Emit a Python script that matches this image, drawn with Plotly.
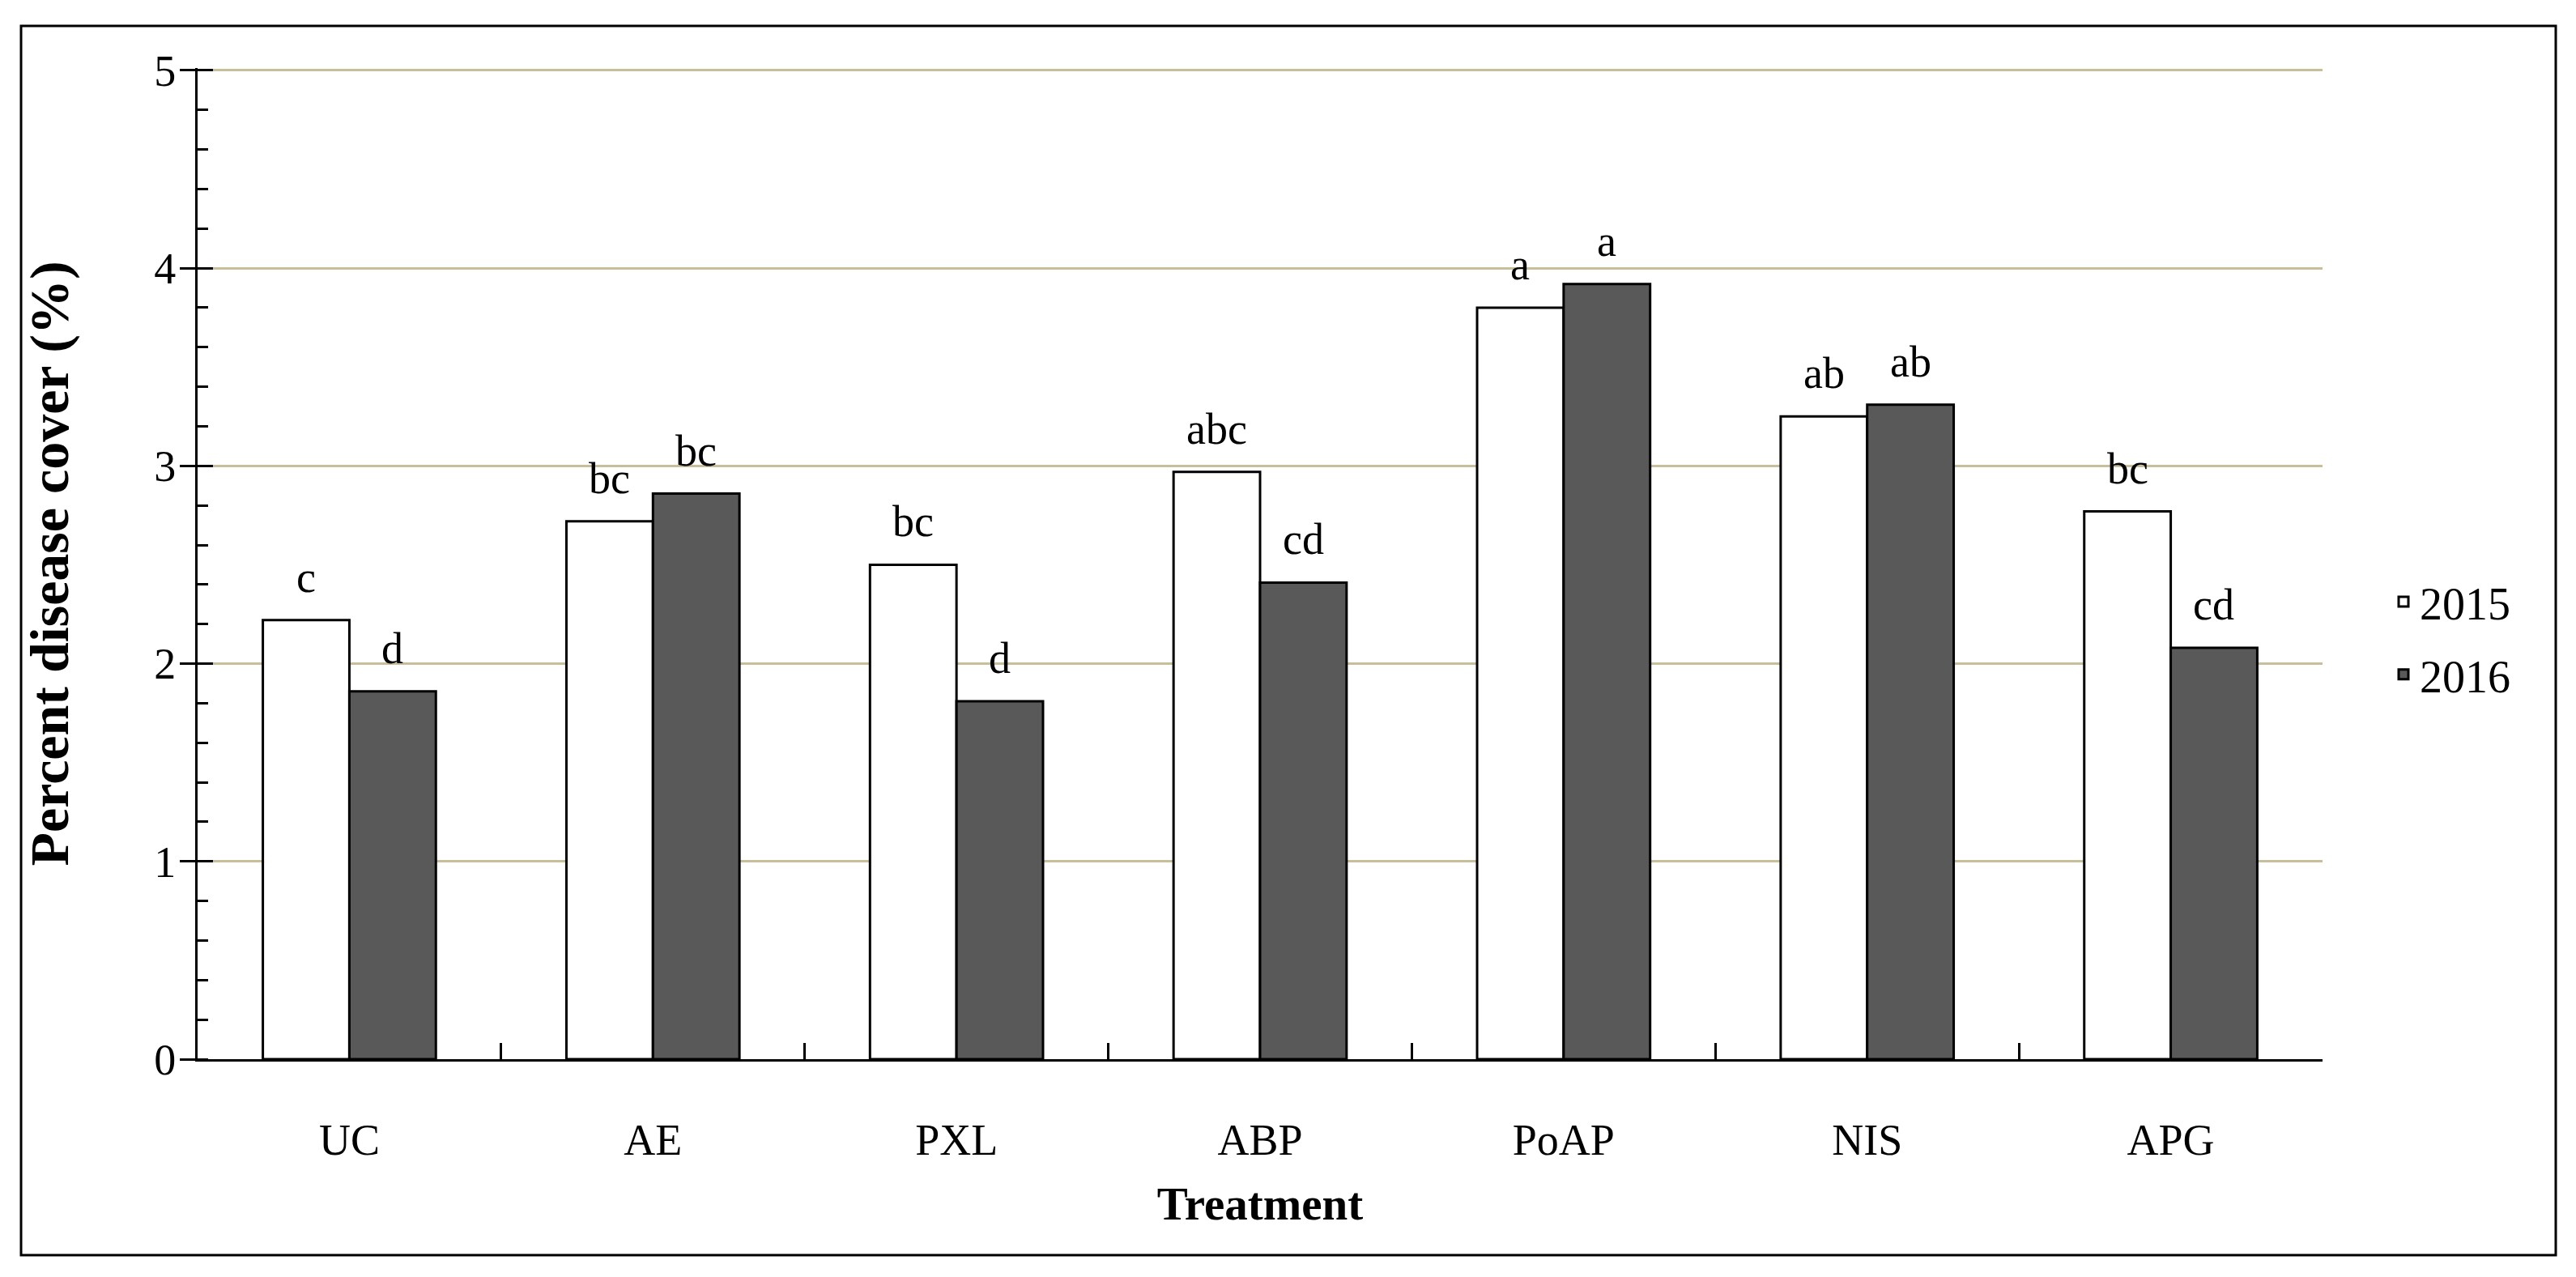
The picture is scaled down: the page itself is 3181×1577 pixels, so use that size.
import plotly.graph_objects as go

# ---------------- data ----------------
treatments = ["UC", "AE", "PXL", "ABP", "PoAP", "NIS", "APG"]
years = ["2015", "2016"]
cover_2015 = [2.22, 2.72, 2.50, 2.97, 3.80, 3.25, 2.77]
cover_2016 = [1.86, 2.86, 1.81, 2.41, 3.92, 3.31, 2.08]
letters_2015 = ["c", "bc", "bc", "abc", "a", "ab", "bc"]
letters_2016 = ["d", "bc", "d", "cd", "a", "ab", "cd"]
y_ticks = [0, 1, 2, 3, 4, 5]

# ---------------- layout geometry (px) ----------------
OFF = 8  # page body margin of the html page
W, H = 3181 - OFF, 1577 - OFF
ML = 244 - OFF
MT = 84 - OFF
PR = 2868 - OFF          # plot right edge
PB = 1308 - OFF          # plot bottom edge
MR = W - PR
MB = H - PB
plot_w = W - ML - MR
plot_h = H - MT - MB
Y_TOP = 5.012            # a hair above 5 so the top grid line is kept
BARGAP = 0.43
FONT = "Liberation Serif, Times New Roman, serif"
FS = 54

cat_w = plot_w / len(treatments)
half_bar = cat_w * (1 - BARGAP) / 4  # offset of each bar centre from category centre

fig = go.Figure()
fig.add_trace(go.Bar(
    name=years[0], x=treatments, y=cover_2015,
    marker=dict(color="white", line=dict(color="black", width=3)),
    legendgroup="g2015",
))
fig.add_trace(go.Bar(
    name=years[1], x=treatments, y=cover_2016,
    marker=dict(color="#595959", line=dict(color="black", width=3)),
    legendgroup="g2016",
))

annotations = []
for t, v, lab in zip(treatments, cover_2015, letters_2015):
    annotations.append(dict(x=t, y=v, text=lab, showarrow=False, xref="x", yref="y",
                            xshift=-half_bar, yshift=21, yanchor="bottom",
                            font=dict(family=FONT, size=FS, color="black")))
for t, v, lab in zip(treatments, cover_2016, letters_2016):
    annotations.append(dict(x=t, y=v, text=lab, showarrow=False, xref="x", yref="y",
                            xshift=half_bar, yshift=21, yanchor="bottom",
                            font=dict(family=FONT, size=FS, color="black")))

# outer frame around whole figure (reference pixel positions)
fx0 = (26 - OFF - ML) / plot_w
fx1 = (3156 - OFF - ML) / plot_w
fy0 = (PB - (1550 - OFF)) / plot_h
fy1 = (PB - (32 - OFF)) / plot_h

fig.update_layout(
    width=W, height=H,
    margin=dict(l=ML, r=MR, t=MT, b=MB, autoexpand=False),
    paper_bgcolor="white", plot_bgcolor="white",
    barmode="group", bargap=BARGAP, bargroupgap=0,
    font=dict(family=FONT, size=FS, color="black"),
    showlegend=True,
    legend=dict(x=(2948 - OFF - ML) / plot_w, xanchor="left",
                y=(PB - (788 - OFF)) / plot_h, yanchor="middle",
                font=dict(family=FONT, size=56, color="black"),
                tracegroupgap=14, bgcolor="rgba(0,0,0,0)"),
    annotations=annotations,
    shapes=[dict(type="rect", xref="paper", yref="paper",
                 x0=fx0, x1=fx1, y0=fy0, y1=fy1,
                 line=dict(color="black", width=3), layer="above")],
    xaxis=dict(
        showline=True, linecolor="black", linewidth=3,
        ticks="inside", ticklen=20, tickwidth=3, tickcolor="black",
        tickson="boundaries",
        showgrid=False, zeroline=False,
        tickfont=dict(family=FONT, size=FS, color="black"),
        ticklabelstandoff=50,
        title=dict(text="<b>Treatment</b>", standoff=30,
                   font=dict(family=FONT, size=57, color="black")),
    ),
    yaxis=dict(
        range=[0, Y_TOP], tickvals=y_ticks,
        showline=True, linecolor="black", linewidth=3,
        ticks="outside", ticklen=19, tickwidth=3, tickcolor="black",
        minor=dict(ticks="inside", ticklen=13, tickwidth=3, tickcolor="black", dtick=0.2,
                   showgrid=False),
        showgrid=True, gridcolor="#C8BE9A", gridwidth=3,
        zeroline=False,
        tickfont=dict(family=FONT, size=FS, color="black"),
        ticklabelstandoff=-6,
        title=dict(text="<b>Percent disease cover (%)</b>", standoff=84,
                   font=dict(family=FONT, size=68, color="black")),
    ),
    yaxis2=dict(
        range=[0, Y_TOP], tickvals=y_ticks, overlaying="y", side="left", anchor="x",
        ticks="inside", ticklen=19, tickwidth=3, tickcolor="black",
        showticklabels=False, showgrid=False, showline=False, zeroline=False,
    ),
)
fig.add_trace(go.Scatter(x=treatments, y=cover_2016, yaxis="y2", mode="none",
                         showlegend=False, hoverinfo="skip"))

fig.write_html("out.html")
